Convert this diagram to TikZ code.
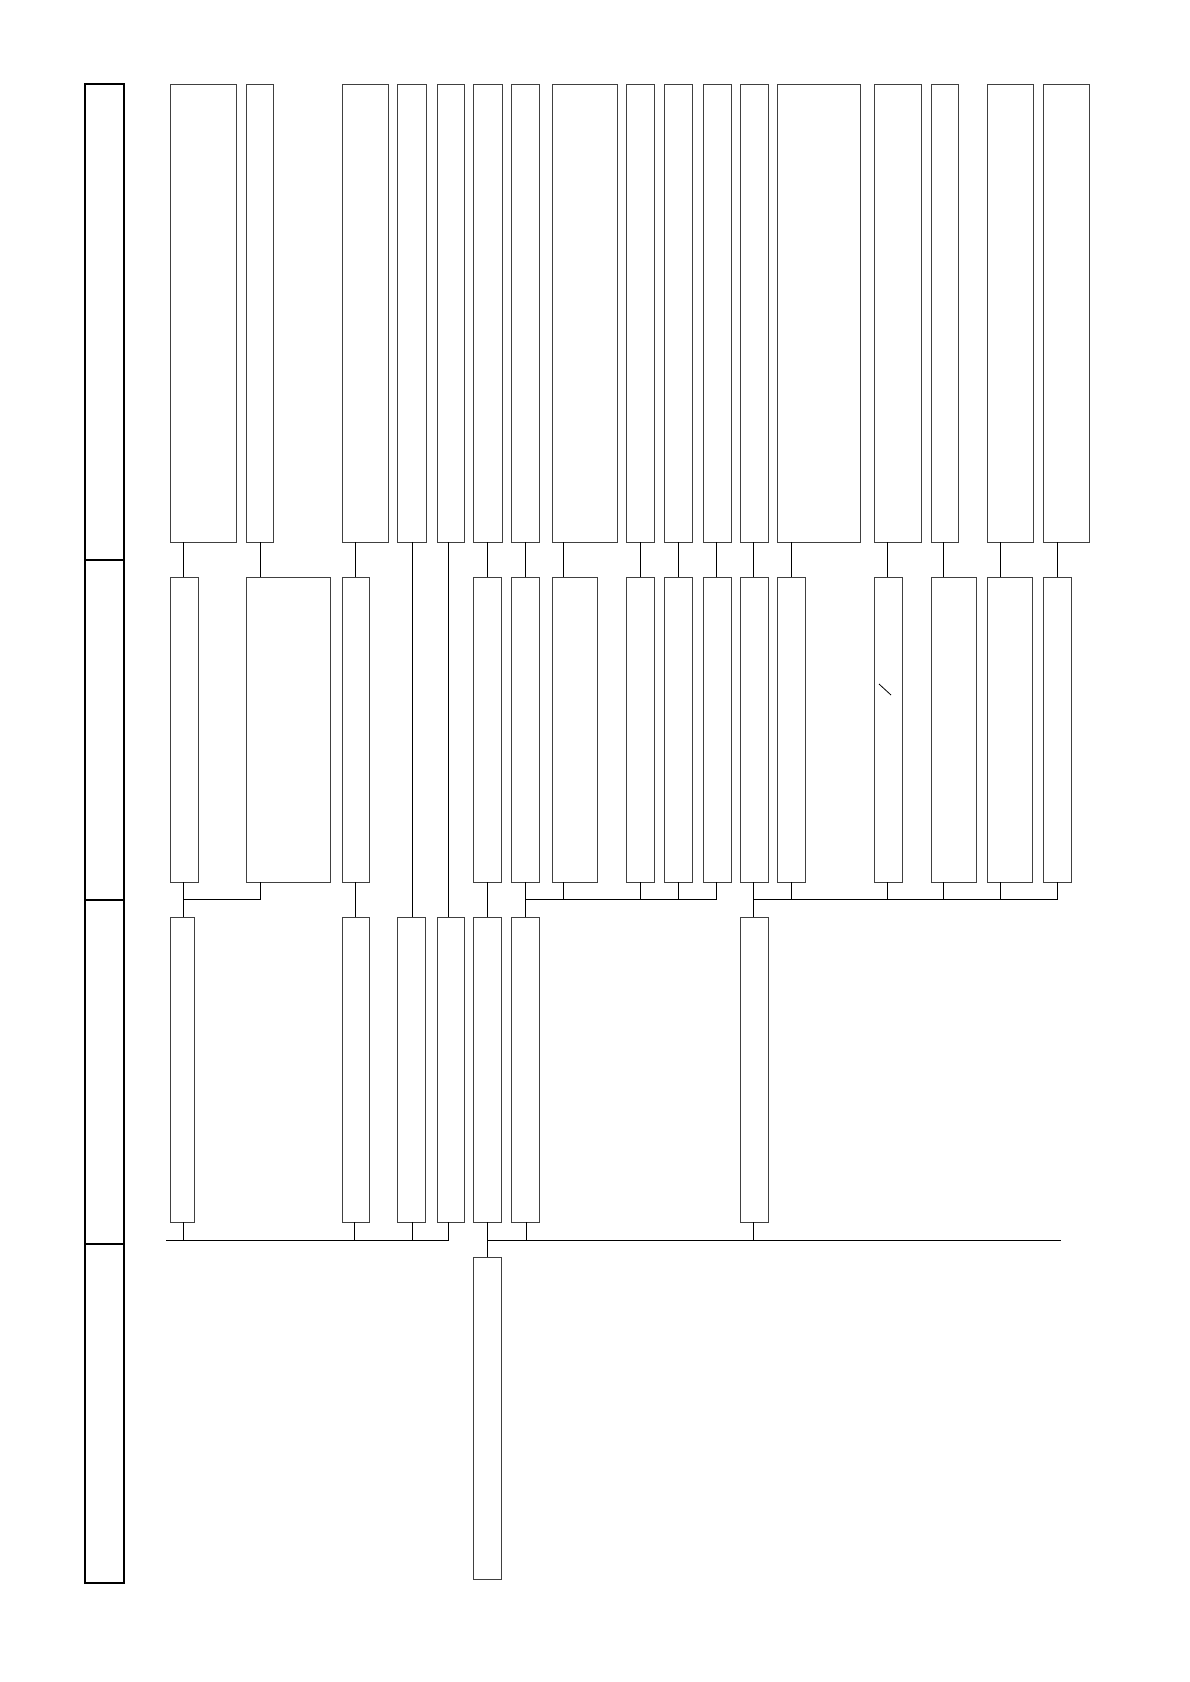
\documentclass[tikz,border=0pt]{standalone}
\begin{document}
\begin{tikzpicture}[x=1pt,y=-1pt,
  bx/.style={draw=black!75, line width=0.9pt, inner sep=0pt, outer sep=0pt, anchor=north west},
  lcol/.style={draw=black, line width=2pt, inner sep=0pt, outer sep=0pt, anchor=north west},
  ln/.style={draw=black, line width=0.9pt}]
\useasboundingbox (0,0) rectangle (1190,1682);
\newcommand\mybx[5]{\node[bx, minimum width={#3-#2}, minimum height={#5-#4}] (#1) at (#2,#4) {};}
\newcommand\mylc[3]{\node[lcol, minimum width=39, minimum height={#3-#2}] (#1) at (85,#2) {};}
% left column
\mylc{lc1}{84}{560}
\mylc{lc2}{560}{900}
\mylc{lc3}{900}{1244}
\mylc{lc4}{1244}{1583}
% row 1
\mybx{A1}{170}{236}{84}{542}
\mybx{B1}{246}{273}{84}{542}
\mybx{C1}{342}{388}{84}{542}
\mybx{D1}{397}{426}{84}{542}
\mybx{E1}{437}{464}{84}{542}
\mybx{F1}{473}{502}{84}{542}
\mybx{G1}{511}{539}{84}{542}
\mybx{H1}{552}{617}{84}{542}
\mybx{I1}{626}{654}{84}{542}
\mybx{J1}{664}{692}{84}{542}
\mybx{K1}{703}{731}{84}{542}
\mybx{L1}{740}{768}{84}{542}
\mybx{M1}{777}{860}{84}{542}
\mybx{N1}{874}{921}{84}{542}
\mybx{O1}{931}{958}{84}{542}
\mybx{P1}{987}{1033}{84}{542}
\mybx{Q1}{1043}{1089}{84}{542}
% row 2
\mybx{A2}{170}{198}{577}{882}
\mybx{B2}{246}{330}{577}{882}
\mybx{C2}{342}{369}{577}{882}
\mybx{F2}{473}{501}{577}{882}
\mybx{G2}{511}{539}{577}{882}
\mybx{H2}{552}{597}{577}{882}
\mybx{I2}{626}{654}{577}{882}
\mybx{J2}{664}{692}{577}{882}
\mybx{K2}{703}{731}{577}{882}
\mybx{L2}{740}{768}{577}{882}
\mybx{M2}{777}{805}{577}{882}
\mybx{N2}{874}{902}{577}{882}
\mybx{O2}{931}{976}{577}{882}
\mybx{P2}{987}{1032}{577}{882}
\mybx{Q2}{1043}{1071}{577}{882}
% row 3
\mybx{A3}{170}{194}{917}{1222}
\mybx{C3}{342}{369}{917}{1222}
\mybx{D3}{397}{425}{917}{1222}
\mybx{E3}{437}{464}{917}{1222}
\mybx{F3}{473}{501}{917}{1222}
\mybx{G3}{511}{539}{917}{1222}
\mybx{L3}{740}{768}{917}{1222}
% row 4
\mybx{F4}{473}{501}{1257}{1579}
% junctions
\coordinate (jA) at (183,899);
\coordinate (jG) at (525,899);
\coordinate (jL) at (753,899);
\coordinate (busL) at (166,1240);
\coordinate (busR) at (1061,1240);
% row1 -> row2 / row3
\draw[ln] ([xshift=13pt]A1.south west) -- ([xshift=13pt]A2.north west);
\draw[ln] ([xshift=14pt]B1.south west) -- ([xshift=14pt]B2.north west);
\draw[ln] ([xshift=13pt]C1.south west) -- ([xshift=13pt]C2.north west);
\draw[ln] ([xshift=15pt]D1.south west) -- ([xshift=15pt]D3.north west);
\draw[ln] ([xshift=11pt]E1.south west) -- ([xshift=11pt]E3.north west);
\draw[ln] ([xshift=14pt]F1.south west) -- ([xshift=14pt]F2.north west);
\draw[ln] ([xshift=14pt]G1.south west) -- ([xshift=14pt]G2.north west);
\draw[ln] ([xshift=11pt]H1.south west) -- ([xshift=11pt]H2.north west);
\draw[ln] ([xshift=14pt]I1.south west) -- ([xshift=14pt]I2.north west);
\draw[ln] ([xshift=14pt]J1.south west) -- ([xshift=14pt]J2.north west);
\draw[ln] ([xshift=13pt]K1.south west) -- ([xshift=13pt]K2.north west);
\draw[ln] ([xshift=13pt]L1.south west) -- ([xshift=13pt]L2.north west);
\draw[ln] ([xshift=14pt]M1.south west) -- ([xshift=14pt]M2.north west);
\draw[ln] ([xshift=13pt]N1.south west) -- ([xshift=13pt]N2.north west);
\draw[ln] ([xshift=12pt]O1.south west) -- ([xshift=12pt]O2.north west);
\draw[ln] ([xshift=13pt]P1.south west) -- ([xshift=13pt]P2.north west);
\draw[ln] ([xshift=14pt]Q1.south west) -- ([xshift=14pt]Q2.north west);
% row2 -> row3
\draw[ln] ([xshift=13pt]A2.south west) -- ([xshift=13pt]A3.north west);
\draw[ln] ([xshift=14pt]B2.south west) |- (jA);
\draw[ln] ([xshift=13pt]C2.south west) -- ([xshift=13pt]C3.north west);
\draw[ln] ([xshift=14pt]F2.south west) -- ([xshift=14pt]F3.north west);
\draw[ln] ([xshift=14pt]G2.south west) -- ([xshift=14pt]G3.north west);
\draw[ln] ([xshift=11pt]H2.south west) |- (jG);
\draw[ln] ([xshift=14pt]I2.south west) |- (jG);
\draw[ln] ([xshift=14pt]J2.south west) |- (jG);
\draw[ln] ([xshift=13pt]K2.south west) |- (jG);
\draw[ln] ([xshift=13pt]L2.south west) -- ([xshift=13pt]L3.north west);
\draw[ln] ([xshift=14pt]M2.south west) |- (jL);
\draw[ln] ([xshift=13pt]N2.south west) |- (jL);
\draw[ln] ([xshift=12pt]O2.south west) |- (jL);
\draw[ln] ([xshift=13pt]P2.south west) |- (jL);
\draw[ln] ([xshift=14pt]Q2.south west) |- (jL);
% row3 -> buses
\draw[ln] ([xshift=13pt]A3.south west) |- (busL);
\draw[ln] ([xshift=12pt]C3.south west) |- (busL);
\draw[ln] ([xshift=15pt]D3.south west) |- (busL);
\draw[ln] ([xshift=11pt]E3.south west) |- (busL);
\draw[ln] ([xshift=14pt]F3.south west) |- (busR);
\draw[ln] ([xshift=15pt]G3.south west) |- (busR);
\draw[ln] ([xshift=13pt]L3.south west) |- (busR);
\draw[ln] ([xshift=14pt]F3.south west) -- ([xshift=14pt]F4.north west);
% small mark
\draw[ln, line width=0.8pt] (879,684) -- (891,695);
\end{tikzpicture}
\end{document}
